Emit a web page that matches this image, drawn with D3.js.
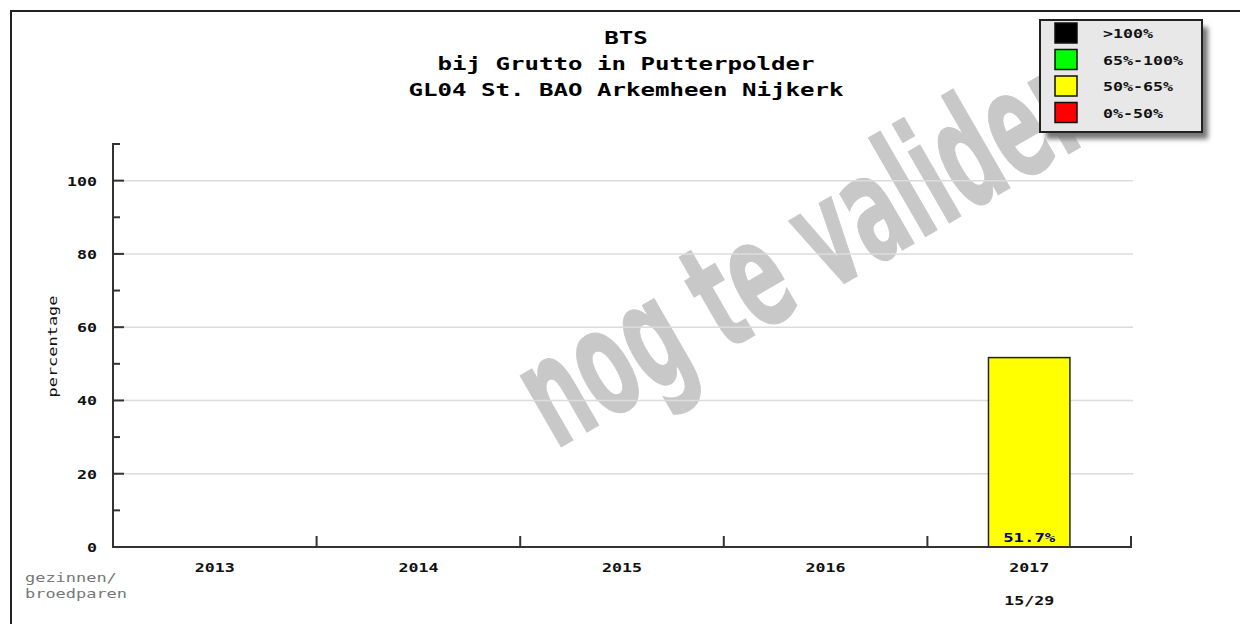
<!DOCTYPE html>
<html>
<head>
<meta charset="utf-8">
<script src="https://cdn.jsdelivr.net/npm/d3@7"></script>
<style>
  html, body { margin: 0; padding: 0; background: #fff; }
  svg { display: block; }
</style>
</head>
<body>
<svg id="chart" width="1240" height="624"></svg>
<script>
// data
const years = ['2013', '2014', '2015', '2016', '2017']
const percentages = [null, null, null, null, 51.7]
const counts = ['', '', '', '', '15/29']
const titleLines = ['BTS', 'bij Grutto in Putterpolder', 'GL04 St. BAO Arkemheen Nijkerk']
const legendLabels = ['>100%', '65%-100%', '50%-65%', '0%-50%']
const legendColors = ['#000000', '#00ff00', '#ffff00', '#ff0000']
const yMajorTicks = [0, 20, 40, 60, 80, 100]
const yMinorTicks = [10, 30, 50, 70, 90, 110]

const width = 1240
const height = 624
const margin = { top: 144, right: 107, bottom: 77, left: 113 }
const font = '"DejaVu Sans Mono", "Liberation Mono", monospace'
const axisColor = '#333'

const svg = d3.select('#chart')

// pixel-font look: wide glyphs, fixed width per char
function fit(sel, perChar) {
  sel.each(function () {
    const t = d3.select(this)
    const n = t.text().length
    if (n) t.attr('textLength', n * perChar).attr('lengthAdjust', 'spacingAndGlyphs')
  })
  return sel
}

function colorFor(v) {
  if (v > 100) return legendColors[0]
  if (v >= 65) return legendColors[1]
  if (v >= 50) return legendColors[2]
  return legendColors[3]
}

svg.append('rect').attr('width', width).attr('height', height).attr('fill', '#fff')

// outer frame (clipped on right / bottom)
svg.append('path')
  .attr('d', `M11,${height + 5}V11H${width + 5}`)
  .attr('fill', 'none')
  .attr('stroke', '#222')
  .attr('stroke-width', 2)

const x = d3.scaleBand()
  .domain(years)
  .range([margin.left, width - margin.right - 2])
  .paddingInner(0.6)
  .paddingOuter(0.3)

const y = d3.scaleLinear()
  .domain([0, 110])
  .range([height - margin.bottom, margin.top])

const x0 = margin.left
const x1 = width - margin.right
const y0 = y(0)

// watermark, under the grid
const wm = svg.append('g')
  .attr('transform', 'translate(826,294) rotate(-30)')
wm.append('text')
  .attr('text-anchor', 'middle')
  .attr('font-family', '"Liberation Sans Narrow", "DejaVu Sans Condensed", "Liberation Sans", sans-serif')
  .attr('font-weight', 'bold')
  .attr('font-size', 150)
  .attr('fill', '#c8c8c8')
  .attr('stroke', '#c8c8c8')
  .attr('stroke-width', 1)
  .attr('textLength', 625)
  .attr('lengthAdjust', 'spacingAndGlyphs')
  .text('nog te valider')

// grid lines
svg.append('g')
  .selectAll('line')
  .data(yMajorTicks.filter((d) => d > 0))
  .join('line')
  .attr('x1', x0)
  .attr('x2', x1)
  .attr('y1', (d) => y(d))
  .attr('y2', (d) => y(d))
  .attr('stroke', '#dcdcdc')
  .attr('stroke-width', 1.5)

// bars
const rows = years.map((yr, i) => ({ year: yr, value: percentages[i], count: counts[i] }))
const bars = svg.append('g')
bars.selectAll('rect')
  .data(rows.filter((d) => d.value != null))
  .join('rect')
  .attr('x', (d) => x(d.year))
  .attr('y', (d) => y(d.value))
  .attr('width', x.bandwidth())
  .attr('height', (d) => y0 - y(d.value))
  .attr('fill', (d) => colorFor(d.value))
  .attr('stroke', '#222')
  .attr('stroke-width', 1.5)

fit(bars.selectAll('text.val')
  .data(rows.filter((d) => d.value != null))
  .join('text')
  .attr('class', 'val')
  .attr('x', (d) => x(d.year) + x.bandwidth() / 2)
  .attr('y', y0 - 5)
  .attr('text-anchor', 'middle')
  .attr('font-family', font)
  .attr('font-weight', 'bold')
  .attr('font-size', 13)
  .attr('fill', '#000080')
  .text((d) => d.value.toFixed(1) + '%'), 10.4)

// y axis
const yAxis = svg.append('g').attr('stroke', axisColor).attr('stroke-width', 2)
yAxis.append('line').attr('x1', x0).attr('x2', x0).attr('y1', y(110) - 1).attr('y2', y0 + 1)
yAxis.selectAll('line.major').data(yMajorTicks).join('line')
  .attr('class', 'major')
  .attr('x1', x0).attr('x2', x0 + 11)
  .attr('y1', (d) => y(d)).attr('y2', (d) => y(d))
yAxis.selectAll('line.minor').data(yMinorTicks).join('line')
  .attr('class', 'minor')
  .attr('x1', x0).attr('x2', x0 + 7)
  .attr('y1', (d) => y(d)).attr('y2', (d) => y(d))

fit(svg.append('g').selectAll('text').data(yMajorTicks).join('text')
  .attr('x', x0 - 16)
  .attr('y', (d) => y(d) + 5)
  .attr('text-anchor', 'end')
  .attr('font-family', font)
  .attr('font-weight', 'bold')
  .attr('font-size', 13)
  .attr('fill', '#111')
  .text((d) => d), 10)

fit(svg.append('text')
  .attr('transform', `translate(57,${y(55) + 1}) rotate(-90)`)
  .attr('text-anchor', 'middle')
  .attr('font-family', font)
  .attr('font-size', 13)
  .attr('fill', '#111')
  .text('percentage'), 10.2)

// x axis
const step = x.step()
const bounds = years.map((d) => x(d) - x.paddingOuter() * step + step)
const xAxis = svg.append('g').attr('stroke', axisColor).attr('stroke-width', 2)
xAxis.append('line').attr('x1', x0 - 1).attr('x2', bounds[bounds.length - 1] + 1).attr('y1', y0).attr('y2', y0)
xAxis.selectAll('line.tick').data(bounds).join('line')
  .attr('class', 'tick')
  .attr('x1', (d) => d).attr('x2', (d) => d)
  .attr('y1', y0).attr('y2', y0 - 11)

fit(svg.append('g').selectAll('text').data(years).join('text')
  .attr('x', (d) => x(d) + x.bandwidth() / 2)
  .attr('y', y0 + 25)
  .attr('text-anchor', 'middle')
  .attr('font-family', font)
  .attr('font-weight', 'bold')
  .attr('font-size', 13)
  .attr('fill', '#111')
  .text((d) => d), 10)

fit(svg.append('g').selectAll('text').data(rows.filter((d) => d.count)).join('text')
  .attr('x', (d) => x(d.year) + x.bandwidth() / 2)
  .attr('y', y0 + 58)
  .attr('text-anchor', 'middle')
  .attr('font-family', font)
  .attr('font-weight', 'bold')
  .attr('font-size', 13)
  .attr('fill', '#111')
  .text((d) => d.count), 10)

// unit note bottom left
fit(svg.append('g').selectAll('text').data(['gezinnen/', 'broedparen']).join('text')
  .attr('x', 25)
  .attr('y', (d, i) => 582 + i * 16)
  .attr('font-family', font)
  .attr('font-size', 13)
  .attr('fill', '#777')
  .text((d) => d), 10.2)

// title
fit(svg.append('g').selectAll('text').data(titleLines).join('text')
  .attr('x', 626)
  .attr('y', (d, i) => 44 + i * 26)
  .attr('text-anchor', 'middle')
  .attr('font-family', font)
  .attr('font-weight', 'bold')
  .attr('font-size', 17)
  .attr('fill', '#000')
  .text((d) => d), 14.5)

// legend
const defs = svg.append('defs')
defs.append('filter').attr('id', 'shadow')
  .attr('x', '-10%').attr('y', '-10%').attr('width', '130%').attr('height', '130%')
  .append('feGaussianBlur').attr('stdDeviation', 2.5)

const lg = svg.append('g').attr('transform', 'translate(1040,20)')
lg.append('rect')
  .attr('x', 6).attr('y', 7).attr('width', 162).attr('height', 112)
  .attr('fill', '#777').attr('filter', 'url(#shadow)')
lg.append('rect')
  .attr('width', 162).attr('height', 112)
  .attr('fill', '#e8e8e8').attr('stroke', '#222').attr('stroke-width', 2)
const items = lg.selectAll('g.item').data(legendLabels).join('g')
  .attr('class', 'item')
  .attr('transform', (d, i) => `translate(0,${13 + i * 26.5})`)
items.append('rect')
  .attr('x', 15).attr('y', -10).attr('width', 22).attr('height', 20)
  .attr('fill', (d, i) => legendColors[i])
  .attr('stroke', '#111').attr('stroke-width', 1.5)
fit(items.append('text')
  .attr('x', 63).attr('y', 5)
  .attr('font-family', font)
  .attr('font-weight', 'bold')
  .attr('font-size', 12)
  .attr('fill', '#111')
  .text((d) => d), 10)
</script>
</body>
</html>
